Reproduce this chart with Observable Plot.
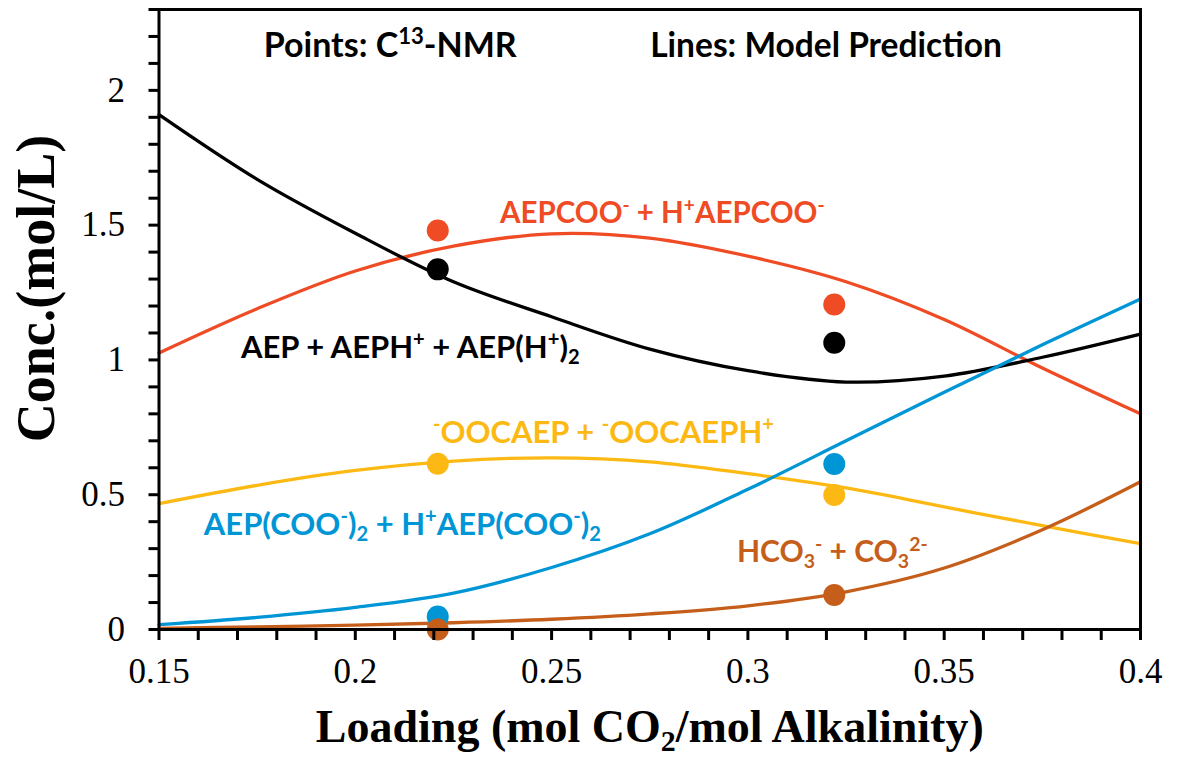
<!DOCTYPE html>
<html><head><meta charset="utf-8">
<script src="https://cdn.jsdelivr.net/npm/d3@7"></script>
<script src="https://cdn.jsdelivr.net/npm/@observablehq/plot@0.6"></script>
<style>body{margin:0;background:#fff;}</style>
</head><body><div id="chart"></div>
<script>
// Model prediction curves (loading in mol CO2/mol alkalinity)
const loading = [0.15, 0.175, 0.2, 0.225, 0.25, 0.275, 0.3, 0.325, 0.35, 0.375, 0.4];
const aepcooLine   = [1.026, 1.19, 1.33, 1.422, 1.468, 1.452, 1.385, 1.29, 1.15, 0.97, 0.80];
const aepLine      = [1.91, 1.67, 1.47, 1.29, 1.16, 1.04, 0.96, 0.918, 0.94, 1.01, 1.096];
const oocaepLine   = [0.467, 0.535, 0.59, 0.625, 0.637, 0.622, 0.578, 0.525, 0.455, 0.385, 0.319];
const aepcoo2Line  = [0.018, 0.045, 0.082, 0.135, 0.23, 0.355, 0.52, 0.70, 0.88, 1.056, 1.226];
const hco3Line     = [0.004, 0.01, 0.016, 0.025, 0.038, 0.058, 0.088, 0.14, 0.228, 0.37, 0.548];

// C13-NMR measured points
const nmrLoading   = [0.221, 0.322];
const aepcooPts    = [1.480, 1.206];
const aepPts       = [1.336, 1.064];
const oocaepPts    = [0.615, 0.499];
const aepcoo2Pts   = [0.048, 0.614];
const hco3Pts      = [0.0, 0.128];

const seriesNames  = ["AEPCOO", "AEP", "OOCAEP", "AEPCOO2", "HCO3"];
const seriesColors = ["#EF4B24", "#000000", "#FDB913", "#0096D6", "#C55E1A"];

const xTickLabels = ["0.15", "0.2", "0.25", "0.3", "0.35", "0.4"];
const yTickLabels = ["0", "0.5", "1", "1.5", "2"];

const lineSets = [aepcooLine, aepLine, oocaepLine, aepcoo2Line, hco3Line];
const ptSets = [aepcooPts, aepPts, oocaepPts, aepcoo2Pts, hco3Pts];
const lines = lineSets.flatMap((ys, s) => ys.map((y, i) => ({x: loading[i], y, series: seriesNames[s]})));
const points = ptSets.flatMap((ys, s) => ys.map((y, i) => ({x: nmrLoading[i], y, series: seriesNames[s]})));

const xTicks = xTickLabels.map(Number);
const yTicks = yTickLabels.map(Number);
const xMinor = d3.range(0, 26).map(i => 0.15 + i / 100);
const yMinor = d3.range(0, 24).map(i => i / 10);

const serif = "'Liberation Serif', 'Times New Roman', serif";
const sans = "Lato, 'Open Sans', sans-serif";

const chart = Plot.plot({
  width: 1181, height: 759,
  marginTop: 9, marginBottom: 130, marginLeft: 158.5, marginRight: 41,
  x: {domain: [0.15, 0.4], label: null},
  y: {domain: [0, 2.3], label: null},
  color: {domain: seriesNames, range: seriesColors},
  style: {fontFamily: serif, background: "white", overflow: "visible"},
  marks: [
    Plot.line(lines, {x: "x", y: "y", z: "series", stroke: "series", strokeWidth: 3.3, curve: "catmull-rom"}),
    Plot.dot(points, {x: "x", y: "y", fill: "series", r: 11}),
    Plot.frame({stroke: "black", strokeWidth: 3}),
    Plot.axisX(xMinor, {tickSize: 11, strokeWidth: 3, tickFormat: () => "", label: null}),
    Plot.axisX(xTicks, {tickSize: 0, tickPadding: 29, fontSize: 35, tickFormat: d => xTickLabels[xTicks.indexOf(d)], label: null}),
    Plot.axisY(yMinor, {tickSize: 10, strokeWidth: 3, tickFormat: () => "", label: null}),
    Plot.axisY(yTicks, {tickSize: 0, tickPadding: 34, fontSize: 35, tickFormat: d => yTickLabels[yTicks.indexOf(d)], label: null}),
    Plot.text(["Loading (mol CO_{2}/mol Alkalinity)"], {frameAnchor: "bottom", lineAnchor: "middle", textAnchor: "middle", dy: 98, fontSize: 46, fontWeight: "bold", fontFamily: serif}),
    Plot.text(["Conc.(mol/L)"], {frameAnchor: "left", lineAnchor: "middle", textAnchor: "middle", rotate: -90, dx: -122, dy: -31, fontSize: 54, fontWeight: "bold", fontFamily: serif}),
    Plot.text(["Points: C^{13}-NMR"], {x: 0.2089, y: 2.163, fontSize: 34, fontWeight: "bold", fontFamily: sans, fill: "black"}),
    Plot.text(["Lines: Model Prediction"], {x: 0.3199, y: 2.163, fontSize: 33.5, fontWeight: "bold", fontFamily: sans, fill: "black"}),
    Plot.text(["AEPCOO^{-} + H^{+}AEPCOO^{-}"], {x: 0.2782, y: 1.544, fontSize: 29.5, fontWeight: "bold", fontFamily: sans, fill: seriesColors[0]}),
    Plot.text(["AEP + AEPH^{+} + AEP(H^{+})_{2}"], {x: 0.2140, y: 1.044, fontSize: 31, fontWeight: "bold", fontFamily: sans, fill: seriesColors[1]}),
    Plot.text(["^{-}OOCAEP + ^{-}OOCAEPH^{+}"], {x: 0.2632, y: 0.730, fontSize: 31, fontWeight: "bold", fontFamily: sans, fill: seriesColors[2]}),
    Plot.text(["AEP(COO^{-})_{2} + H^{+}AEP(COO^{-})_{2}"], {x: 0.2120, y: 0.389, fontSize: 31, fontWeight: "bold", fontFamily: sans, fill: seriesColors[3]}),
    Plot.text(["HCO_{3}^{-} + CO_{3}^{2-}"], {x: 0.3215, y: 0.285, fontSize: 30, fontWeight: "bold", fontFamily: sans, fill: seriesColors[4]})
  ]
});

// turn ^{..} and _{..} into real superscript / subscript tspans
chart.querySelectorAll("text").forEach(t => {
  const s = t.textContent;
  if (!/[\^_]\{/.test(s)) return;
  t.textContent = "";
  const re = /([\^_])\{([^}]*)\}|([^\^_]+)/g;
  let m;
  while ((m = re.exec(s))) {
    const ts = document.createElementNS("http://www.w3.org/2000/svg", "tspan");
    if (m[3] !== undefined) ts.textContent = m[3];
    else {
      ts.textContent = m[2];
      ts.setAttribute("baseline-shift", m[1] === "^" ? "super" : "-0.3em");
      ts.setAttribute("font-size", "65%");
    }
    t.appendChild(ts);
  }
});

document.getElementById("chart").appendChild(chart);
</script>
</body></html>
